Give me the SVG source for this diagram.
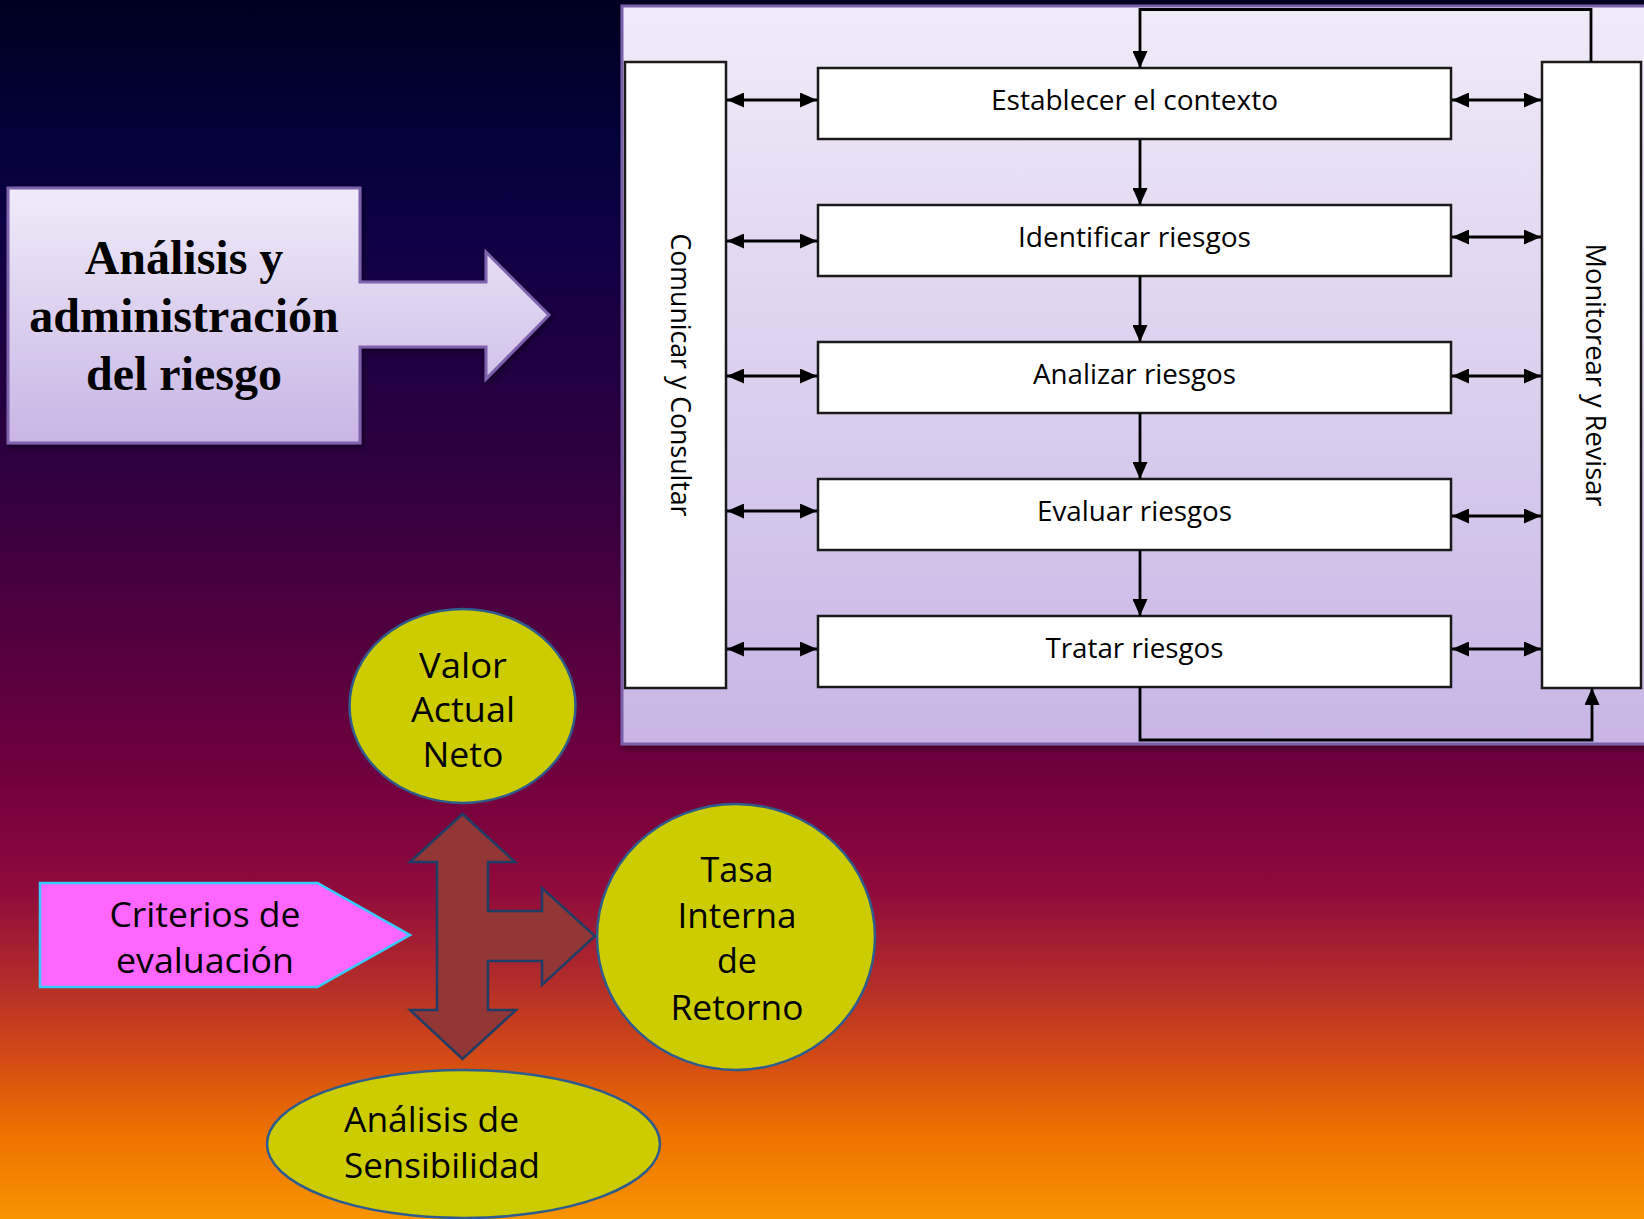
<svg xmlns="http://www.w3.org/2000/svg" width="1644" height="1219" viewBox="0 0 1644 1219">
  <defs>
    <linearGradient id="bg" x1="0" y1="0" x2="0" y2="1">
      <stop offset="0" stop-color="#00001f"/>
      <stop offset="0.12" stop-color="#03023c"/>
      <stop offset="0.2" stop-color="#100045"/>
      <stop offset="0.38" stop-color="#2e0040"/>
      <stop offset="0.52" stop-color="#52003e"/>
      <stop offset="0.64" stop-color="#72003e"/>
      <stop offset="0.73" stop-color="#900a3c"/>
      <stop offset="0.8" stop-color="#b02a2c"/>
      <stop offset="0.87" stop-color="#d44c14"/>
      <stop offset="0.93" stop-color="#ee7200"/>
      <stop offset="1" stop-color="#f89400"/>
    </linearGradient>
    <linearGradient id="lilac" x1="0" y1="0" x2="0" y2="1">
      <stop offset="0" stop-color="#f0ebf8"/>
      <stop offset="1" stop-color="#c8b5e5"/>
    </linearGradient>
    <filter id="shadow" x="-5%" y="-5%" width="115%" height="115%">
      <feDropShadow dx="2" dy="3" stdDeviation="3" flood-color="#000" flood-opacity="0.45"/>
    </filter>
    <marker id="head" viewBox="0 0 17 15" markerUnits="userSpaceOnUse" markerWidth="17" markerHeight="15" refX="17" refY="7.5" orient="auto-start-reverse">
      <path d="M0,0 L17,7.5 L0,15 Z" fill="#000"/>
    </marker>
    <style>
      .box { fill: #ffffff; stroke: #1a1a1a; stroke-width: 2.5; }
      .lbl { font-family: "Open Sans", "Liberation Sans", sans-serif; font-size: 28px; fill: #000; text-anchor: middle; }
      .link { fill: none; stroke: #000; stroke-width: 2.8; }
      .dbl { marker-start: url(#head); marker-end: url(#head); }
      .one { marker-end: url(#head); }
      .oval { fill: #cccc00; stroke: #2e5c8c; stroke-width: 2.5; }
      .otxt { font-family: "Open Sans", "Liberation Sans", sans-serif; font-size: 34px; fill: #000; text-anchor: middle; }
      .title { font-family: "Liberation Serif", "Times New Roman", serif; font-weight: bold; font-size: 48px; fill: #000; text-anchor: middle; }
    </style>
  </defs>

  <!-- background -->
  <rect x="0" y="0" width="1644" height="1219" fill="url(#bg)"/>

  <!-- process panel -->
  <g id="panel">
    <rect x="622" y="6" width="1030" height="738" fill="url(#lilac)" stroke="#7b5fab" stroke-width="3" filter="url(#shadow)"/>
  </g>

  <!-- title arrow -->
  <g id="title-arrow">
    <path d="M8,188 H360 V282 H486 V252 L549,315 L486,379 V347 H360 V443 H8 Z" fill="url(#lilac)" stroke="#7e62ae" stroke-width="3" filter="url(#shadow)"/>
    <text class="title" x="184" y="274">Análisis y</text>
    <text class="title" x="184" y="332">administración</text>
    <text class="title" x="184" y="390">del riesgo</text>
  </g>

  <!-- side columns -->
  <g id="comunicar">
    <rect class="box" x="625" y="62" width="101" height="626"/>
    <text class="lbl" transform="translate(671,375) rotate(90)" x="0" y="0" textLength="283" lengthAdjust="spacingAndGlyphs">Comunicar y Consultar</text>
  </g>
  <g id="monitorear">
    <rect class="box" x="1542" y="62" width="99" height="626"/>
    <text class="lbl" transform="translate(1586,375) rotate(90)" x="0" y="0" textLength="263" lengthAdjust="spacingAndGlyphs">Monitorear y Revisar</text>
  </g>

  <!-- process steps -->
  <g id="establecer">
    <rect class="box" x="818" y="68" width="633" height="71"/>
    <text class="lbl" x="1134.5" y="110" textLength="287" lengthAdjust="spacingAndGlyphs">Establecer el contexto</text>
  </g>
  <g id="identificar">
    <rect class="box" x="818" y="205" width="633" height="71"/>
    <text class="lbl" x="1134.5" y="247" textLength="233" lengthAdjust="spacingAndGlyphs">Identificar riesgos</text>
  </g>
  <g id="analizar">
    <rect class="box" x="818" y="342" width="633" height="71"/>
    <text class="lbl" x="1134.5" y="384" textLength="203" lengthAdjust="spacingAndGlyphs">Analizar riesgos</text>
  </g>
  <g id="evaluar">
    <rect class="box" x="818" y="479" width="633" height="71"/>
    <text class="lbl" x="1134.5" y="521" textLength="195" lengthAdjust="spacingAndGlyphs">Evaluar riesgos</text>
  </g>
  <g id="tratar">
    <rect class="box" x="818" y="616" width="633" height="71"/>
    <text class="lbl" x="1134.5" y="658" textLength="178" lengthAdjust="spacingAndGlyphs">Tratar riesgos</text>
  </g>

  <!-- connectors -->
  <g id="connectors">
    <!-- step to step -->
    <path class="link one" d="M1140,139 V205"/>
    <path class="link one" d="M1140,276 V342"/>
    <path class="link one" d="M1140,413 V479"/>
    <path class="link one" d="M1140,550 V616"/>
    <!-- loop back from monitoring to the start -->
    <path class="link one" d="M1591,62 V9.5 H1140 V68"/>
    <!-- treatment feeds monitoring -->
    <path class="link one" d="M1140,687 V740 H1592 V688"/>
    <!-- communication links -->
    <path class="link dbl" d="M727,100 H817"/>
    <path class="link dbl" d="M727,241 H817"/>
    <path class="link dbl" d="M727,376 H817"/>
    <path class="link dbl" d="M727,511 H817"/>
    <path class="link dbl" d="M727,649 H817"/>
    <!-- monitoring links -->
    <path class="link dbl" d="M1452,100 H1541"/>
    <path class="link dbl" d="M1452,237 H1541"/>
    <path class="link dbl" d="M1452,376 H1541"/>
    <path class="link dbl" d="M1452,516 H1541"/>
    <path class="link dbl" d="M1452,649 H1541"/>
  </g>

  <!-- evaluation criteria -->
  <g id="criterios">
    <path d="M40,883 H317.5 L410,935 L317.5,987 H40 Z" fill="#ff66ff" stroke="#33ccff" stroke-width="2.5"/>
    <text class="otxt" x="205" y="927" textLength="191" lengthAdjust="spacingAndGlyphs">Criterios de</text>
    <text class="otxt" x="205" y="973" textLength="178" lengthAdjust="spacingAndGlyphs">evaluación</text>
  </g>

  <g id="cruce">
    <path d="M462.5,814 L515,862 L488,862 L488,911 L542,911 L542,888 L595,936 L542,985 L542,961 L488,961 L488,1010 L516,1010 L462.5,1059 L410,1010 L437,1010 L437,862 L410,862 Z" fill="#923636" stroke="#1f3d66" stroke-width="2.5" stroke-linejoin="miter"/>
  </g>

  <g id="van">
    <ellipse class="oval" cx="462.5" cy="706" rx="113" ry="97"/>
    <text class="otxt" x="463" y="678" textLength="88" lengthAdjust="spacingAndGlyphs">Valor</text>
    <text class="otxt" x="463" y="722" textLength="104" lengthAdjust="spacingAndGlyphs">Actual</text>
    <text class="otxt" x="463" y="767" textLength="81" lengthAdjust="spacingAndGlyphs">Neto</text>
  </g>

  <g id="tir">
    <ellipse class="oval" cx="736" cy="937" rx="139" ry="133"/>
    <text class="otxt" x="737" y="882" textLength="73" lengthAdjust="spacingAndGlyphs">Tasa</text>
    <text class="otxt" x="737" y="928" textLength="119" lengthAdjust="spacingAndGlyphs">Interna</text>
    <text class="otxt" x="737" y="973" textLength="40" lengthAdjust="spacingAndGlyphs">de</text>
    <text class="otxt" x="737" y="1020" textLength="133" lengthAdjust="spacingAndGlyphs">Retorno</text>
  </g>

  <g id="sensibilidad">
    <ellipse class="oval" cx="463.5" cy="1144" rx="196.5" ry="74"/>
    <text class="otxt" x="344" y="1132" style="text-anchor:start" textLength="175" lengthAdjust="spacingAndGlyphs">Análisis de</text>
    <text class="otxt" x="344" y="1178" style="text-anchor:start" textLength="196" lengthAdjust="spacingAndGlyphs">Sensibilidad</text>
  </g>
</svg>
